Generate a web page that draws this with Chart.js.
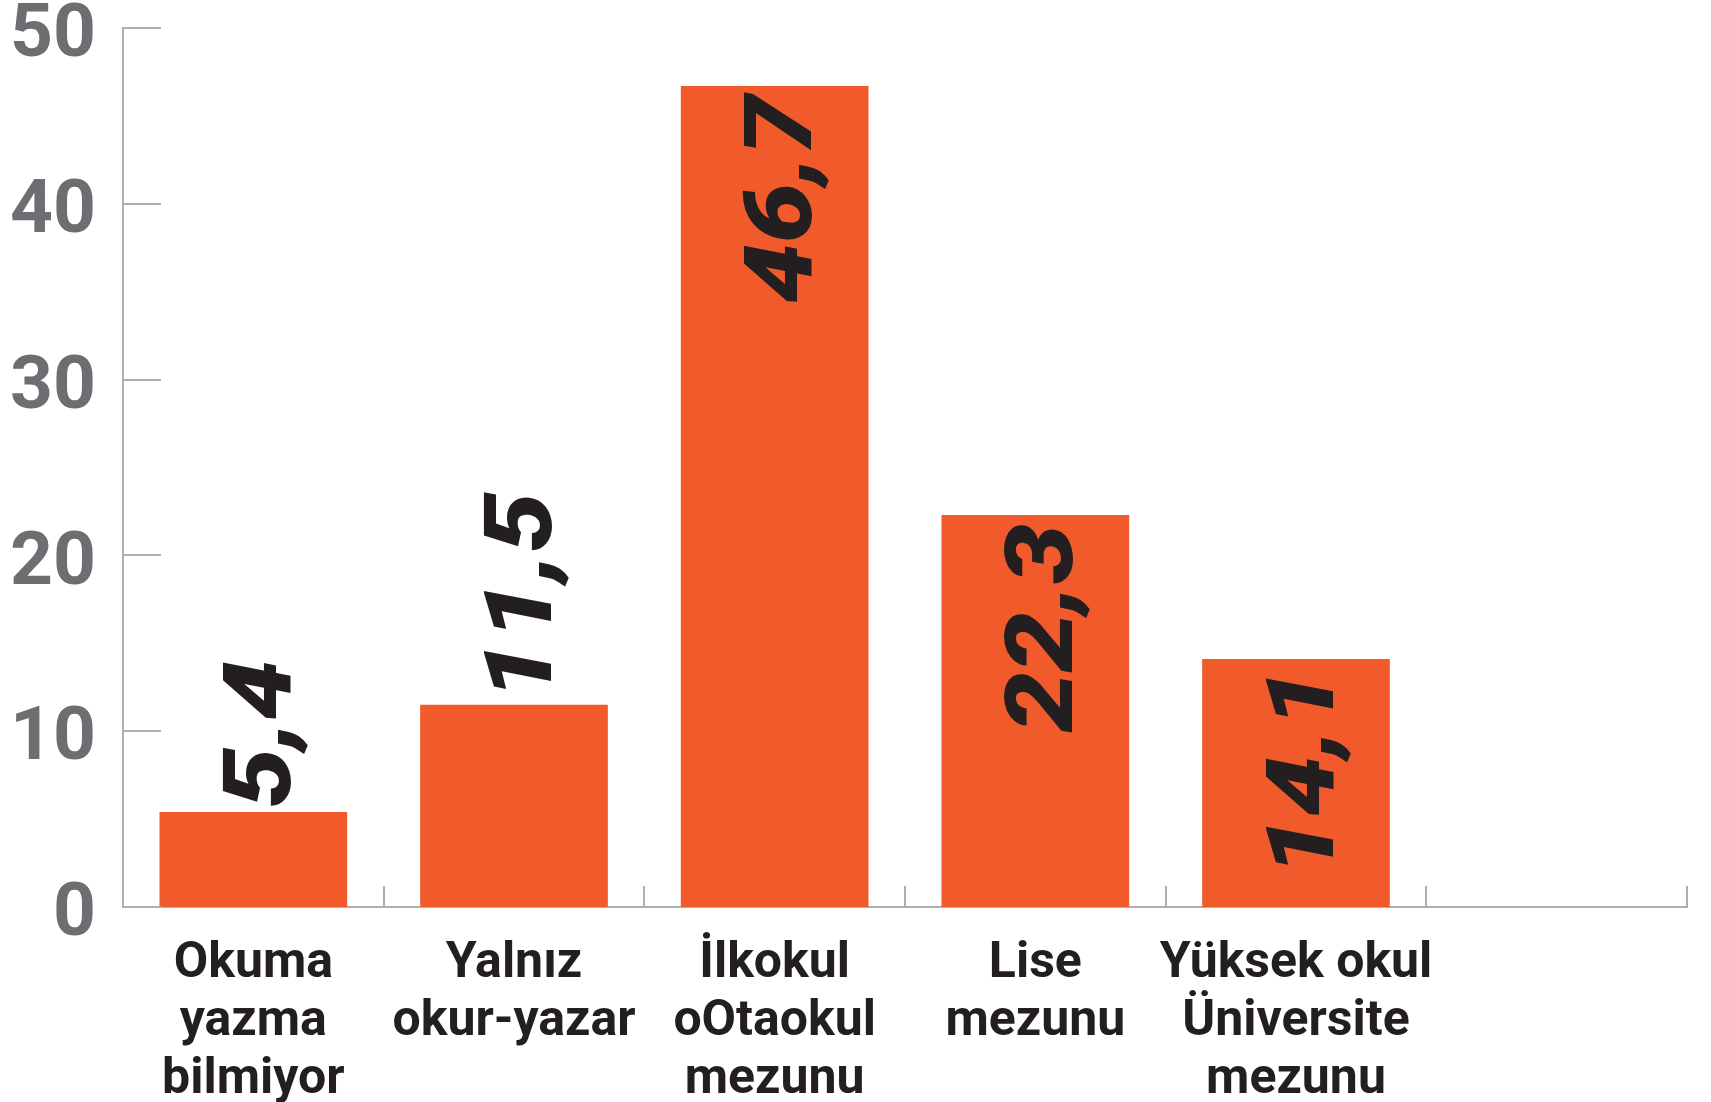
<!DOCTYPE html>
<html>
<head>
<meta charset="utf-8">
<script src="https://cdn.jsdelivr.net/npm/chart.js@4.4.1/dist/chart.umd.min.js"></script>
<style>
  html, body { margin: 0; padding: 0; background: #fff; }
  #wrap { width: 1711px; height: 1102px; }
</style>
</head>
<body>
<div id="wrap"><canvas id="myChart"></canvas></div>
<script>
const categories = [
    ['Okuma', 'yazma', 'bilmiyor'],
    ['Yalnız', 'okur-yazar'],
    ['İlkokul', 'oOtaokul', 'mezunu'],
    ['Lise', 'mezunu'],
    ['Yüksek okul', 'Üniversite', 'mezunu'],
    ''
];
const values = [5.4, 11.5, 46.7, 22.3, 14.1, null];
const yTicks = [0, 10, 20, 30, 40, 50];

const barColor = '#f15a2b';
const axisColor = '#aeafb2';
const darkText = '#231f20';

// numbers written sideways on / above each bar
const valueLabels = {
    id: 'valueLabels',
    afterDatasetsDraw(chart) {
        const ctx = chart.ctx;
        const meta = chart.getDatasetMeta(0);
        ctx.save();
        ctx.font = 'italic 900 100px Roboto';
        ctx.fillStyle = darkText;
        ctx.textBaseline = 'alphabetic';
        meta.data.forEach((bar, i) => {
            const v = values[i];
            if (v === null || v === undefined) return;
            const text = v.toFixed(1).replace('.', ',');
            const w = ctx.measureText(text).width * 1.07;
            const inside = (bar.base - bar.y) > w + 20;
            ctx.save();
            ctx.translate(bar.x, inside ? bar.y + 9 : bar.y - 4);
            ctx.rotate(-Math.PI / 2);
            ctx.scale(1.07, 0.94); // a bit wider and flatter, like the original type
            ctx.textAlign = inside ? 'right' : 'left';
            ctx.fillText(text, 0, 39);
            ctx.restore();
        });
        ctx.restore();
    }
};

// short tick marks pointing into the plot
const tickMarks = {
    id: 'tickMarks',
    afterDraw(chart) {
        const { ctx, chartArea, scales } = chart;
        ctx.save();
        ctx.strokeStyle = axisColor;
        ctx.lineWidth = 2;
        ctx.beginPath();
        yTicks.forEach(t => {
            const py = Math.round(scales.y.getPixelForValue(t));
            ctx.moveTo(chartArea.left, py);
            ctx.lineTo(chartArea.left + 38, py);
        });
        for (let i = 1; i <= categories.length; i++) {
            const px = Math.round(scales.x.getPixelForValue(i - 0.5));
            ctx.moveTo(px, chartArea.bottom);
            ctx.lineTo(px, chartArea.bottom - 21);
        }
        ctx.stroke();
        ctx.restore();
    }
};

const ctx = document.getElementById('myChart').getContext('2d');

const myChart = new Chart(ctx, {
    type: 'bar',
    data: {
        labels: categories,
        datasets: [{
            data: values,
            backgroundColor: barColor,
            borderWidth: 0,
            barPercentage: 0.72,
            categoryPercentage: 1
        }]
    },
    options: {
        responsive: true,
        maintainAspectRatio: false,
        animation: false,
        layout: { padding: { top: 28, right: 24, left: 0, bottom: 0 } },
        plugins: {
            legend: { display: false },
            tooltip: { enabled: false }
        },
        scales: {
            x: {
                afterFit(s) { s.height = 195; },
                grid: { display: false, drawTicks: false },
                border: { display: true, color: axisColor, width: 2 },
                ticks: {
                    color: darkText,
                    font: { family: 'Roboto', weight: 'bold', size: 50, lineHeight: 1.16 },
                    padding: 28,
                    autoSkip: false,
                    maxRotation: 0,
                    minRotation: 0
                }
            },
            y: {
                min: 0,
                max: 50,
                afterFit(s) {
                    s.width = 123;
                    // keep the big top label from pushing the plot down
                    s.paddingTop = 0;
                    s.paddingBottom = 0;
                },
                afterBuildTicks(s) { s.ticks = yTicks.map(v => ({ value: v })); },
                grid: { display: false, drawTicks: false },
                border: { display: true, color: axisColor, width: 2 },
                ticks: {
                    color: '#6d6e71',
                    // empty first line nudges the number a few px down
                    callback: v => ['', String(v)],
                    font: { family: 'Roboto', weight: 'bold', size: 75, lineHeight: 0.25 },
                    padding: 27
                }
            }
        }
    },
    plugins: [valueLabels, tickMarks]
});
</script>
</body>
</html>
